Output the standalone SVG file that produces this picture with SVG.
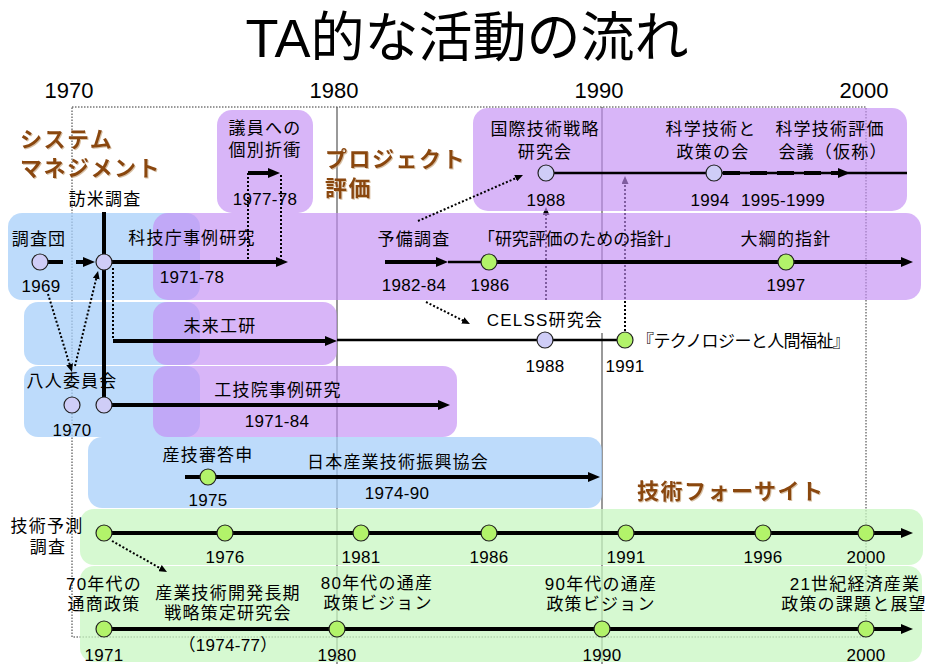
<svg xmlns="http://www.w3.org/2000/svg" width="926" height="664" viewBox="0 0 926 664">
<defs>
<style>
text{font-family:"Liberation Sans","Noto Sans CJK JP",sans-serif;fill:#000}
.t{font-size:17px;letter-spacing:1.2px;text-anchor:middle}
.n{font-size:17px;letter-spacing:0.3px;text-anchor:middle}
.yr{font-size:22px;text-anchor:middle}
.sec{font-size:22px;font-weight:bold;letter-spacing:1.5px;fill:#8a4710;filter:url(#sh)}
.title{font-size:54px;text-anchor:middle}
.bl{fill:#a7cff9;opacity:.75}
.pu{fill:#c38ef5;opacity:.65}
.gn{fill:#c8f7c2;opacity:.75}
.lv{fill:#cfcdf7;stroke:#222;stroke-width:1.2}
.gr{fill:#b2f36a;stroke:#222;stroke-width:1.2}
.thick{stroke:#000;stroke-width:4;fill:none}
.thin{stroke:#000;stroke-width:2.3;fill:none}
.dot{stroke:#000;stroke-width:2;stroke-dasharray:2 2;fill:none}
.yl{stroke:#555;stroke-width:1.2}
</style>
<filter id="sh" x="-5%" y="-20%" width="110%" height="140%"><feDropShadow dx="1" dy="1" stdDeviation="0.4" flood-color="#c8a67c" flood-opacity="0.7"/></filter>
<marker id="ah" markerUnits="userSpaceOnUse" markerWidth="12" markerHeight="10" refX="2" refY="5" orient="auto" viewBox="0 0 12 10"><path d="M0,0 L12,5 L0,10 z" fill="#000"/></marker>
<marker id="as" markerUnits="userSpaceOnUse" markerWidth="8" markerHeight="7" refX="1" refY="3.5" orient="auto" viewBox="0 0 8 7"><path d="M0,0 L8,3.5 L0,7 z" fill="#000"/></marker>
</defs>
<rect width="926" height="664" fill="#fff"/>

<g id="title"><text class="title" x="467" y="57">TA的な活動の流れ</text></g>

<g id="axis">
<text class="yr" x="69" y="98">1970</text>
<text class="yr" x="334" y="98">1980</text>
<text class="yr" x="599" y="98">1990</text>
<text class="yr" x="864" y="98">2000</text>
<rect x="72" y="107" width="794" height="530" fill="none" stroke="#333" stroke-width="1" stroke-dasharray="1.5 1.5"/>
<line class="yl" x1="337" y1="107" x2="337" y2="664"/>
<line class="yl" x1="602" y1="107" x2="602" y2="300"/>
<line class="yl" x1="602" y1="333" x2="602" y2="664"/>
</g>

<g id="under-connectors">
<line class="dot" x1="546" y1="300" x2="546" y2="214" marker-end="url(#as)"/>
<line class="dot" x1="625" y1="331" x2="625" y2="183" marker-end="url(#as)"/>
</g>

<g id="bands">
<rect class="bl" x="8" y="213" width="192" height="87" rx="14"/>
<rect class="bl" x="24" y="302" width="176" height="63" rx="14"/>
<rect class="bl" x="24" y="366" width="176" height="71" rx="14"/>
<rect class="bl" x="88" y="437" width="514" height="71" rx="14"/>
<rect class="pu" x="217" y="110" width="96" height="103" rx="15"/>
<rect class="pu" x="473" y="108" width="434" height="103" rx="15"/>
<rect class="pu" x="153" y="213" width="768" height="87" rx="15"/>
<rect class="pu" x="153" y="302" width="184" height="63" rx="14"/>
<rect class="pu" x="153" y="366" width="304" height="71" rx="14"/>
<rect class="gn" x="80" y="509" width="843" height="56" rx="14"/>
<rect class="gn" x="80" y="566" width="842" height="96" rx="14"/>
</g>

<g id="sections">
<text class="sec" x="20" y="147">システム</text>
<text class="sec" x="20" y="176">マネジメント</text>
<text class="sec" x="325" y="167">プロジェクト</text>
<text class="sec" x="325" y="196">評価</text>
<text class="sec" x="637" y="499">技術フォーサイト</text>
</g>

<g id="connectors">
<line class="thick" x1="104" y1="212" x2="104" y2="397"/>
<line class="thick" x1="48" y1="262" x2="85" y2="262" stroke-dasharray="15 13" marker-end="url(#ah)"/>
<line class="thick" x1="111" y1="262" x2="278" y2="262" marker-end="url(#ah)"/>
<line class="dot" x1="248" y1="173" x2="248" y2="260"/>
<line class="thick" x1="248" y1="173" x2="270" y2="173" marker-end="url(#ah)"/>
<line class="dot" x1="281" y1="175" x2="281" y2="260"/>
<line class="dot" x1="113" y1="268" x2="113" y2="339"/>
<line class="thick" x1="113" y1="341" x2="327" y2="341" marker-end="url(#ah)"/>
<line class="thin" x1="337" y1="340" x2="617" y2="340"/>
<line class="thick" x1="112" y1="405" x2="440" y2="405" marker-end="url(#ah)"/>
<line class="dot" x1="48" y1="294" x2="69.9" y2="365.3" marker-end="url(#as)"/>
<line class="dot" x1="75" y1="366" x2="96.4" y2="277.8" marker-end="url(#as)"/>
<line class="thick" x1="385" y1="262" x2="438" y2="262" marker-end="url(#ah)"/>
<line class="thin" x1="448" y1="262" x2="481" y2="262"/>
<line class="thick" x1="497" y1="262" x2="903" y2="262" marker-end="url(#ah)"/>
<line class="dot" x1="418" y1="221" x2="516.6" y2="177.8" marker-end="url(#as)"/>
<line class="dot" x1="426" y1="302" x2="463.7" y2="320.9" marker-end="url(#as)"/>
<line class="thin" x1="554" y1="173" x2="907" y2="173"/>
<line class="thick" x1="723" y1="173" x2="840" y2="173" stroke-dasharray="17 10" marker-end="url(#ah)"/>
<line class="thick" x1="185" y1="477" x2="590" y2="477" marker-end="url(#ah)"/>
<line class="thick" x1="104" y1="533" x2="903" y2="533" marker-end="url(#ah)"/>
<line class="dot" x1="112" y1="541" x2="160.9" y2="568.6" marker-end="url(#as)"/>
<line class="thick" x1="104" y1="629" x2="903" y2="629" marker-end="url(#ah)"/>
</g>

<g id="n-giin"><text class="t" x="265" y="134">議員への</text><text class="t" x="265" y="156">個別折衝</text><text class="n" x="265" y="205">1977-78</text></g>
<g id="n-kokusai"><text class="t" x="545" y="135">国際技術戦略</text><text class="t" x="545" y="158">研究会</text><circle class="lv" cx="546" cy="173" r="8"/><text class="n" x="546" y="206">1988</text></g>
<g id="n-kagaku"><text class="t" x="711" y="135">科学技術と</text><text class="t" x="713" y="158">政策の会</text><circle class="lv" cx="714" cy="173" r="8"/><text class="n" x="710" y="206">1994</text></g>
<g id="n-hyoka"><text class="t" x="830" y="135">科学技術評価</text><text class="t" x="833" y="158">会議（仮称）</text><text class="n" x="783" y="206">1995-1999</text></g>
<g id="n-houbei"><text class="t" x="105" y="205">訪米調査</text><circle class="lv" cx="104" cy="262" r="8"/></g>
<g id="n-chousadan"><text class="t" x="39" y="245">調査団</text><circle class="lv" cx="40" cy="262" r="8"/><text class="n" x="41" y="292">1969</text></g>
<g id="n-kagichou"><text class="t" x="192" y="244">科技庁事例研究</text><text class="n" x="192" y="283">1971-78</text></g>
<g id="n-yobi"><text class="t" x="414" y="245">予備調査</text><text class="n" x="414" y="291">1982-84</text></g>
<g id="n-shishin"><text class="t" x="580" y="245" textLength="204" lengthAdjust="spacing">「研究評価のための指針」</text><circle class="gr" cx="489" cy="262" r="8"/><text class="n" x="490" y="291">1986</text></g>
<g id="n-taikou"><text class="t" x="786" y="245">大綱的指針</text><circle class="gr" cx="786" cy="262" r="8"/><text class="n" x="786" y="291">1997</text></g>
<g id="n-mirai"><text class="t" x="220" y="332">未来工研</text></g>
<g id="n-celss"><text class="t" x="545" y="326">CELSS研究会</text><circle class="lv" cx="545" cy="340" r="8"/><text class="n" x="545" y="372">1988</text></g>
<g id="n-techno"><circle class="gr" cx="625" cy="340" r="8"/><text class="n" x="625" y="372">1991</text><text class="t" x="637" y="347" style="text-anchor:start" textLength="214" lengthAdjust="spacing">『テクノロジーと人間福祉』</text></g>
<g id="n-hachinin"><text class="t" x="72" y="387">八人委員会</text><circle class="lv" cx="72" cy="405" r="8"/><text class="n" x="72" y="436">1970</text></g>
<g id="n-kougiin"><circle class="lv" cx="104" cy="405" r="8"/><text class="t" x="278" y="396">工技院事例研究</text><text class="n" x="277" y="427">1971-84</text></g>
<g id="n-sangishin"><text class="t" x="208" y="461">産技審答申</text><circle class="gr" cx="208" cy="477" r="8"/><text class="n" x="208" y="506">1975</text></g>
<g id="n-nihon"><text class="t" x="398" y="468">日本産業技術振興協会</text><text class="n" x="397" y="499">1974-90</text></g>
<g id="n-yosoku">
<text class="t" x="47" y="532">技術予測</text><text class="t" x="48" y="553">調査</text>
<circle class="gr" cx="104" cy="533" r="8"/>
<circle class="gr" cx="225" cy="533" r="8"/><text class="n" x="225" y="563">1976</text>
<circle class="gr" cx="361" cy="533" r="8"/><text class="n" x="361" y="563">1981</text>
<circle class="gr" cx="489" cy="533" r="8"/><text class="n" x="489" y="563">1986</text>
<circle class="gr" cx="626" cy="533" r="8"/><text class="n" x="626" y="563">1991</text>
<circle class="gr" cx="763" cy="533" r="8"/><text class="n" x="763" y="563">1996</text>
<circle class="gr" cx="866" cy="533" r="8"/><text class="n" x="866" y="563">2000</text>
</g>
<g id="n-vision70"><text class="t" x="104" y="590">70年代の</text><text class="t" x="104" y="610">通商政策</text><circle class="gr" cx="104" cy="629" r="8"/><text class="n" x="104" y="661">1971</text></g>
<g id="n-sangyo"><text class="t" x="228" y="599">産業技術開発長期</text><text class="t" x="228" y="619">戦略策定研究会</text><text class="n" x="228" y="651">（1974-77）</text></g>
<g id="n-vision80"><text class="t" x="377" y="589">80年代の通産</text><text class="t" x="378" y="609">政策ビジョン</text><circle class="gr" cx="337" cy="629" r="8"/><text class="n" x="337" y="661">1980</text></g>
<g id="n-vision90"><text class="t" x="601" y="590">90年代の通産</text><text class="t" x="601" y="610">政策ビジョン</text><circle class="gr" cx="602" cy="629" r="8"/><text class="n" x="602" y="661">1990</text></g>
<g id="n-vision21"><text class="t" x="855" y="590">21世紀経済産業</text><text class="t" x="854" y="610">政策の課題と展望</text><circle class="gr" cx="866" cy="629" r="8"/><text class="n" x="866" y="661">2000</text></g>
</svg>
